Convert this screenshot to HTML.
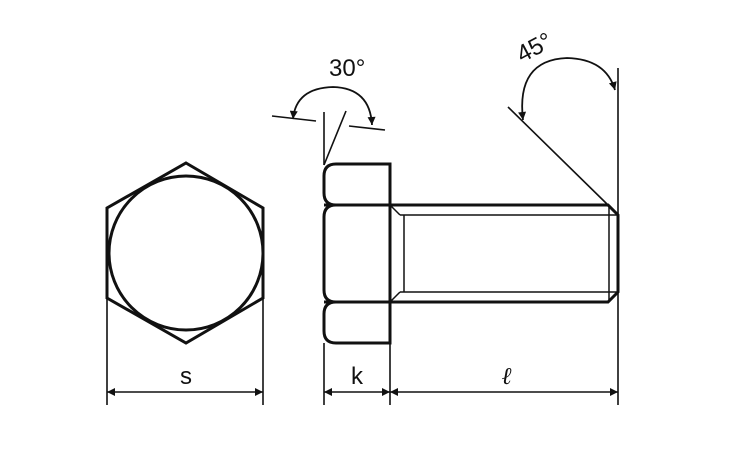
<!DOCTYPE html>
<html><head><style>html,body{margin:0;padding:0;background:#fff;width:750px;height:450px;overflow:hidden}</style></head>
<body>
<svg width="750" height="450" viewBox="0 0 750 450" xmlns="http://www.w3.org/2000/svg" font-family="Liberation Sans, sans-serif">
<defs>
<marker id="a" viewBox="0 0 10 10" refX="10" refY="5" markerWidth="12" markerHeight="8" orient="auto-start-reverse" markerUnits="userSpaceOnUse"><path d="M0,0 L10,5 L0,10 z" fill="#111"/></marker>
</defs>
<g stroke="#111" fill="none">
<polygon points="186,163 263,208 263,298 186,343 107,298 107,208" stroke-width="3"/>
<circle cx="186" cy="253" r="77" stroke-width="3"/>
<path d="M336,164 H390 V343 H336 Q324,343 324,331 V314 Q324,302 336,302 Q324,302 324,290 V217 Q324,205 336,205 Q324,205 324,193 V176 Q324,164 336,164 Z" stroke-width="3"/>
<line x1="324" y1="205" x2="390" y2="205" stroke-width="3"/>
<line x1="324" y1="302" x2="390" y2="302" stroke-width="3"/>
<path d="M390,205 H608 L618,215 V292 L608,302 H390" stroke-width="3"/>
<line x1="400" y1="215" x2="618" y2="215" stroke-width="1.5"/>
<line x1="400" y1="292" x2="618" y2="292" stroke-width="1.5"/>
<line x1="390" y1="205" x2="400" y2="215" stroke-width="1.5"/>
<line x1="390" y1="302" x2="400" y2="292" stroke-width="1.5"/>
<line x1="404" y1="215" x2="404" y2="292" stroke-width="1.5"/>
<line x1="609" y1="205" x2="609" y2="302" stroke-width="1.5"/>
<g stroke-width="1.6">
<line x1="107" y1="298" x2="107" y2="405"/>
<line x1="263" y1="298" x2="263" y2="405"/>
<line x1="324" y1="343" x2="324" y2="405"/>
<line x1="390" y1="343" x2="390" y2="405"/>
<line x1="618" y1="68" x2="618" y2="405"/>
<line x1="324" y1="112" x2="324" y2="165"/>
<line x1="324" y1="165" x2="346" y2="111"/>
<line x1="272" y1="116" x2="316" y2="121"/>
<line x1="349" y1="126" x2="385" y2="130"/>
<line x1="508" y1="107" x2="608" y2="205"/>
<line x1="107" y1="392" x2="263" y2="392" marker-start="url(#a)" marker-end="url(#a)"/>
<line x1="324" y1="392" x2="390" y2="392" marker-start="url(#a)" marker-end="url(#a)"/>
<line x1="390" y1="392" x2="618" y2="392" marker-start="url(#a)" marker-end="url(#a)"/>
<path d="M293,119 Q296,88 333,87 Q370,88 372,125" marker-start="url(#a)" marker-end="url(#a)" stroke-width="1.8"/>
<path d="M523,120 Q516,60 567,58 Q606,59 615,90" marker-start="url(#a)" marker-end="url(#a)" stroke-width="1.8"/>
</g>
</g>
<g fill="#111" font-size="24">
<text x="186" y="384" text-anchor="middle">s</text>
<text x="357" y="384" text-anchor="middle">k</text>
<text x="507" y="384" text-anchor="middle" font-style="italic" font-weight="bold" font-family="Liberation Serif, serif">ℓ</text>
<text x="329" y="76">30°</text>
<text x="0" y="0" transform="translate(522,63) rotate(-28)">45°</text>
</g>
</svg>
</body></html>
